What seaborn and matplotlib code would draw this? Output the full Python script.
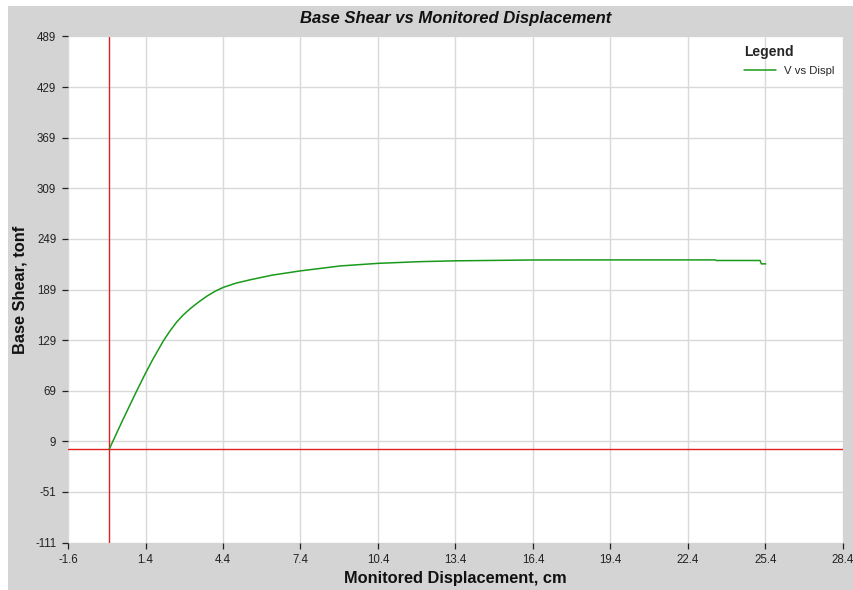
import matplotlib
matplotlib.use("Agg")
import matplotlib.pyplot as plt
from matplotlib.patches import Rectangle
import seaborn as sns
import pandas as pd

# ---- data ----
displacement_cm = [0.0, 0.5, 1.0, 1.38, 1.68, 2.09, 2.35, 2.61, 2.85, 3.12, 3.45, 3.77,
                   4.1, 4.41, 4.9, 5.45, 6.3, 7.38, 8.93, 10.4, 12.0, 13.4, 16.4,
                   19.4, 22.4, 23.45, 23.5, 25.19, 25.24, 25.41]
base_shear_tonf = [0.0, 33.0, 65.0, 88.5, 106.0, 128.0, 140.0, 150.5, 158.5, 166.0,
                   174.0, 181.0, 187.0, 191.5, 196.5, 200.5, 206.0, 211.0, 216.9,
                   220.0, 222.0, 223.0, 224.0, 224.1, 224.1, 224.1, 223.4, 223.4,
                   219.4, 219.4]
x_ticks = [-1.6, 1.4, 4.4, 7.4, 10.4, 13.4, 16.4, 19.4, 22.4, 25.4, 28.4]
y_ticks = [-111, -51, 9, 69, 129, 189, 249, 309, 369, 429, 489]
series_name = "V vs Displ"

df = pd.DataFrame({"disp": displacement_cm, "shear": base_shear_tonf})

sns.set_style("white")
plt.rcParams["font.family"] = ["Liberation Sans", "DejaVu Sans"]

BG = "#d4d4d4"
W, H = 854, 590
fig = plt.figure(figsize=(8.54, 5.90), dpi=100, facecolor="white")
fig.patches.append(Rectangle((8 / W, 0), 1, 1 - 6 / H, transform=fig.transFigure,
                             facecolor=BG, edgecolor="none", zorder=-10))
ax = fig.add_axes([68 / W, 1 - 542.5 / H, (843 - 68) / W, (542.5 - 36.5) / H])
ax.set_facecolor("white")

ax.set_xlim(x_ticks[0], x_ticks[-1])
ax.set_ylim(y_ticks[0], y_ticks[-1])
ax.set_xticks(x_ticks)
ax.set_yticks(y_ticks)
ax.set_xticklabels([f"{v:g}" for v in x_ticks])
ax.set_yticklabels([f"{v:g}" for v in y_ticks])
ax.grid(True, color="#d9d9d9", linewidth=1.0)
ax.set_axisbelow(True)
for s in ax.spines.values():
    s.set_visible(False)

ax.tick_params(axis="both", direction="out", length=4.5, width=0.9, color="#222222",
               labelsize=8.3, labelcolor="#222222", pad=4,
               bottom=True, left=True)

ax.axvline(0, color="#e02020", linewidth=1.0, zorder=2)
ax.axhline(0, color="#e02020", linewidth=1.0, zorder=2)

sns.lineplot(data=df, x="disp", y="shear", ax=ax, color="#1a9a1a", linewidth=1.1,
             sort=False, estimator=None, label=series_name, zorder=3)

ax.set_xlabel("Monitored Displacement, cm", fontsize=11.8, fontweight="bold",
              color="#111111")
ax.set_ylabel("Base Shear, tonf", fontsize=11.8, fontweight="bold",
              color="#111111")
ax.xaxis.set_label_coords(455.5 / W, 1 - 578 / H, transform=fig.transFigure)
ax.yaxis.set_label_coords(20 / W, 1 - 289.5 / H, transform=fig.transFigure)
ax.xaxis.label.set_va("center")
ax.yaxis.label.set_va("center")

fig.text(455.5 / W, 1 - 18 / H, "Base Shear vs Monitored Displacement",
         ha="center", va="center", fontsize=12, fontweight="bold",
         fontstyle="italic", color="#111111")

leg = ax.legend(title="Legend", loc="upper right", frameon=False, fontsize=8.2,
                title_fontproperties={"weight": "bold", "size": 10},
                alignment="left", handlelength=2.8, handletextpad=0.75,
                borderaxespad=0.2, bbox_to_anchor=(0.998, 0.996))
leg._legend_box.sep = 5

fig.savefig("out.png", dpi=100, facecolor="white")
